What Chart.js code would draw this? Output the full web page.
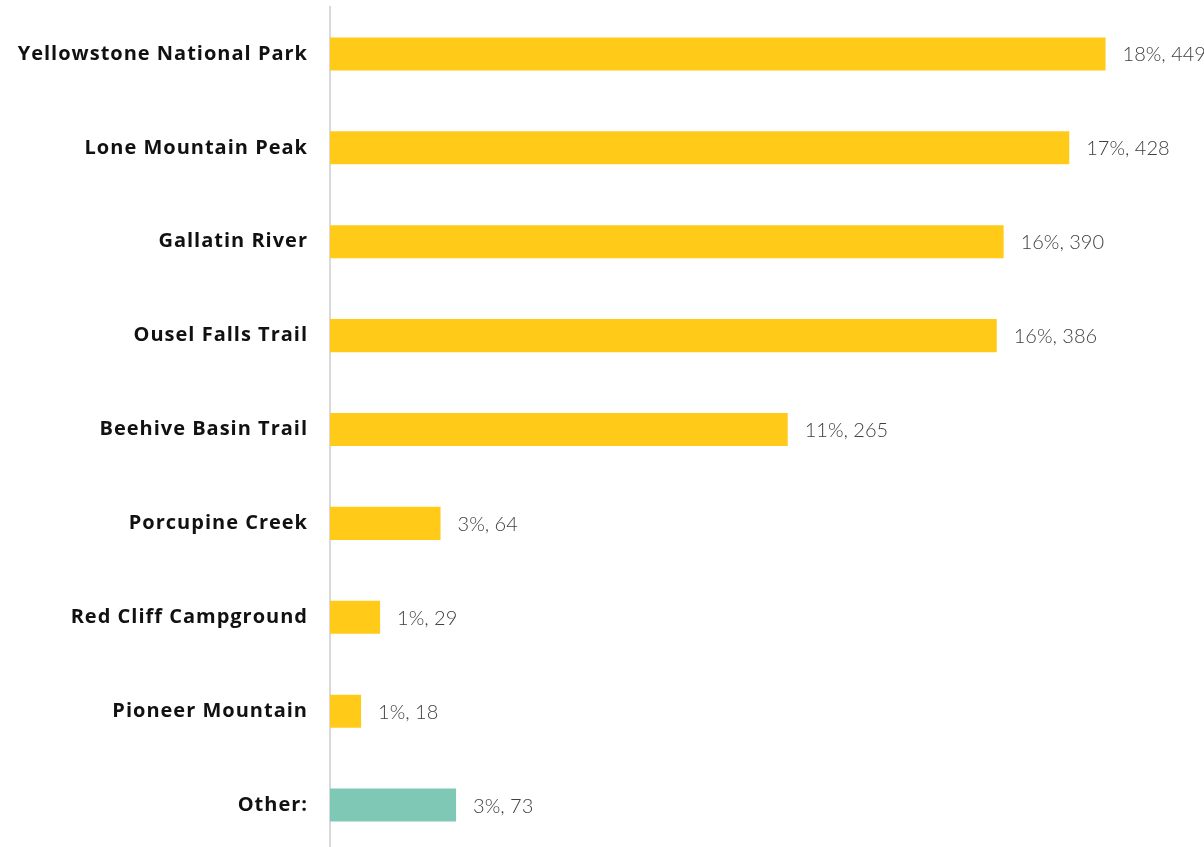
<!DOCTYPE html>
<html>
<head>
<meta charset="utf-8">
<script src="https://cdn.jsdelivr.net/npm/chart.js@4.4.1/dist/chart.umd.min.js"></script>
<style>
  html, body { margin: 0; padding: 0; background: #ffffff; overflow: hidden; }
  canvas { display: block; }
</style>
</head>
<body>
<canvas id="chart" width="1204" height="852"></canvas>
<script>
// Places mentioned, with counts and share of respondents
const places = [
  'Yellowstone National Park',
  'Lone Mountain Peak',
  'Gallatin River',
  'Ousel Falls Trail',
  'Beehive Basin Trail',
  'Porcupine Creek',
  'Red Cliff Campground',
  'Pioneer Mountain',
  'Other:'
];
const counts = [449, 428, 390, 386, 265, 64, 29, 18, 73];
const shares = ['18%', '17%', '16%', '16%', '11%', '3%', '1%', '1%', '3%'];
const barColors = ['#FFCA18', '#FFCA18', '#FFCA18', '#FFCA18', '#FFCA18', '#FFCA18', '#FFCA18', '#FFCA18', '#7FC8B5'];

// Slightly open tracking for the category names
const labelTracking = {
  id: 'labelTracking',
  beforeDraw(chart) { chart.ctx.letterSpacing = '1px'; },
  afterDraw(chart) { chart.ctx.letterSpacing = '0px'; }
};

// Writes "share, count" just past the end of each bar
const valueLabels = {
  id: 'valueLabels',
  afterDatasetsDraw(chart) {
    const ctx = chart.ctx;
    const meta = chart.getDatasetMeta(0);
    ctx.save();
    ctx.letterSpacing = '0px';
    ctx.font = '300 20px Lato';
    ctx.fillStyle = '#404040';
    ctx.textAlign = 'left';
    ctx.textBaseline = 'middle';
    meta.data.forEach((bar, i) => {
      ctx.fillText(shares[i] + ', ' + counts[i], bar.x + 17, bar.y + 1);
    });
    ctx.restore();
  }
};

new Chart(document.getElementById('chart'), {
  type: 'bar',
  data: {
    labels: places,
    datasets: [{
      data: counts,
      backgroundColor: barColors,
      borderWidth: 0,
      barPercentage: 0.352,
      categoryPercentage: 1.0
    }]
  },
  options: {
    indexAxis: 'y',
    responsive: false,
    animation: false,
    layout: { padding: { top: 7, right: 0, bottom: 0, left: 0 } },
    plugins: {
      legend: { display: false },
      tooltip: { enabled: false }
    },
    scales: {
      x: {
        display: false,
        min: 0,
        max: 506
      },
      y: {
        afterFit(scale) {
          scale.width = 330;
          scale.paddingTop = 0;
          scale.paddingBottom = 0;
        },
        grid: { display: false },
        border: { display: true, color: '#D9D9D9', width: 2 },
        ticks: {
          padding: 14,
          color: '#111111',
          font: { family: 'Open Sans', size: 20, weight: 'bold' }
        }
      }
    }
  },
  plugins: [labelTracking, valueLabels]
});
</script>
</body>
</html>
